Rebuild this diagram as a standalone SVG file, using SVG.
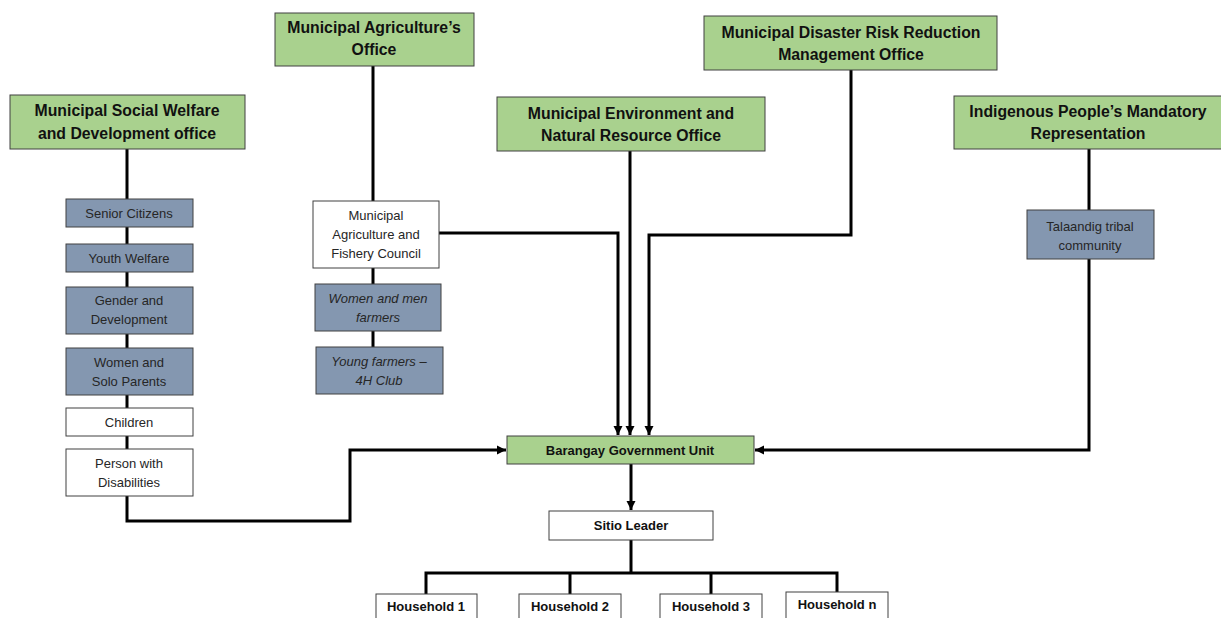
<svg xmlns="http://www.w3.org/2000/svg" width="1221" height="618" viewBox="0 0 1221 618">
<style>
.green{fill:#A9D18E;stroke:#404040;stroke-width:1}
.blue{fill:#8497B0;stroke:#404040;stroke-width:1}
.white{fill:#FFFFFF;stroke:#404040;stroke-width:1}
.title{font-family:"Liberation Sans",Arial,sans-serif;font-weight:bold;font-size:15.8px;fill:#111;text-anchor:middle}
.small{font-family:"Liberation Sans",Arial,sans-serif;font-size:13px;fill:#262626;text-anchor:middle}
.it{font-style:italic}
.bsmall{font-family:"Liberation Sans",Arial,sans-serif;font-weight:bold;font-size:13px;fill:#111;text-anchor:middle}
.conn{fill:none;stroke:#000;stroke-width:3}
</style>
<defs>
<marker id="arr" markerUnits="userSpaceOnUse" markerWidth="10" markerHeight="10" refX="9" refY="5" orient="auto">
<path d="M0,0.5 L9,5 L0,9.5 Z" fill="#000"/>
</marker>
</defs>
<rect width="1221" height="618" fill="#fff"/>
<g id="connectors">
<path class="conn" d="M127,149 V521 H350 V450 H506" marker-end="url(#arr)"/>
<path class="conn" d="M373,66 V347"/>
<path class="conn" d="M439,233 H618 V435" marker-end="url(#arr)"/>
<path class="conn" d="M630,151 V435" marker-end="url(#arr)"/>
<path class="conn" d="M851,70 V235 H649 V435" marker-end="url(#arr)"/>
<path class="conn" d="M1089,149 V450 H755" marker-end="url(#arr)"/>
<path class="conn" d="M631,464 V510" marker-end="url(#arr)"/>
<path class="conn" d="M631,540 V574"/>
<path class="conn" d="M426,594 V573 H837 V593"/>
<path class="conn" d="M570,573 V594"/>
<path class="conn" d="M711,573 V594"/>
</g>
<g id="mswdo"><rect class="green" x="10" y="95" width="235" height="54"/><text class="title" x="127" y="116">Municipal Social Welfare</text><text class="title" x="127" y="139">and Development office</text></g>
<g id="mao"><rect class="green" x="275" y="13" width="199" height="53"/><text class="title" x="374" y="33">Municipal Agriculture’s</text><text class="title" x="374" y="55">Office</text></g>
<g id="mdrrmo"><rect class="green" x="704" y="16" width="293" height="54"/><text class="title" x="851" y="38">Municipal Disaster Risk Reduction</text><text class="title" x="851" y="60">Management Office</text></g>
<g id="menro"><rect class="green" x="497" y="97" width="268" height="54"/><text class="title" x="631" y="119">Municipal Environment and</text><text class="title" x="631" y="141">Natural Resource Office</text></g>
<g id="ipmr"><rect class="green" x="954" y="96" width="270" height="53"/><text class="title" x="1088" y="117">Indigenous People’s Mandatory</text><text class="title" x="1088" y="139">Representation</text></g>
<g id="senior"><rect class="blue" x="66" y="199" width="127" height="28"/><text class="small" x="129" y="218">Senior Citizens</text></g>
<g id="youth"><rect class="blue" x="66" y="244" width="127" height="28"/><text class="small" x="129" y="263">Youth Welfare</text></g>
<g id="gender"><rect class="blue" x="66" y="287" width="127" height="47"/><text class="small" x="129" y="305">Gender and</text><text class="small" x="129" y="324">Development</text></g>
<g id="women"><rect class="blue" x="66" y="348" width="127" height="47"/><text class="small" x="129" y="367">Women  and</text><text class="small" x="129" y="386">Solo Parents</text></g>
<g id="children"><rect class="white" x="66" y="408" width="127" height="28"/><text class="small" x="129" y="427">Children</text></g>
<g id="pwd"><rect class="white" x="66" y="449" width="127" height="47"/><text class="small" x="129" y="468">Person with</text><text class="small" x="129" y="487">Disabilities</text></g>
<g id="mafc"><rect class="white" x="313" y="201" width="126" height="67"/><text class="small" x="376" y="220">Municipal</text><text class="small" x="376" y="239">Agriculture and</text><text class="small" x="376" y="258">Fishery Council</text></g>
<g id="farmers"><rect class="blue" x="315" y="284" width="126" height="47"/><text class="small it" x="378" y="303">Women and men</text><text class="small it" x="378" y="322">farmers</text></g>
<g id="young"><rect class="blue" x="316" y="347" width="127" height="47"/><text class="small it" x="379" y="366">Young farmers –</text><text class="small it" x="379" y="385">4H Club</text></g>
<g id="talaandig"><rect class="blue" x="1027" y="210" width="127" height="49"/><text class="small" x="1090" y="231">Talaandig tribal</text><text class="small" x="1090" y="250">community</text></g>
<g id="bgu"><rect class="green" x="507" y="436" width="247" height="28"/><text class="bsmall" x="630" y="455">Barangay Government Unit</text></g>
<g id="sitio"><rect class="white" x="549" y="511" width="164" height="29"/><text class="bsmall" x="631" y="530">Sitio Leader</text></g>
<g id="hh1"><rect class="white" x="376" y="594" width="101" height="30"/><text class="bsmall" x="426" y="611">Household 1</text></g>
<g id="hh2"><rect class="white" x="519" y="594" width="102" height="30"/><text class="bsmall" x="570" y="611">Household 2</text></g>
<g id="hh3"><rect class="white" x="660" y="594" width="102" height="30"/><text class="bsmall" x="711" y="611">Household 3</text></g>
<g id="hhn"><rect class="white" x="786" y="592" width="102" height="30"/><text class="bsmall" x="837" y="609">Household n</text></g>
</svg>
